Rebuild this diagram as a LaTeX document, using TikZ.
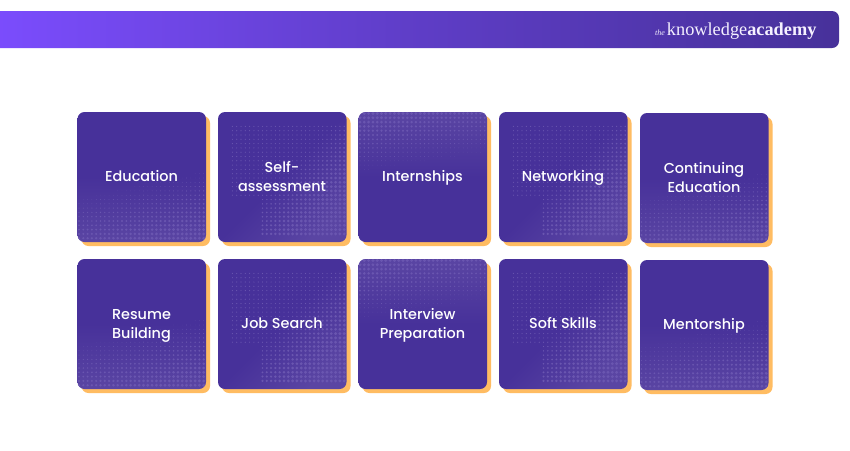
\documentclass[tikz,border=0pt]{standalone}
\usepackage{fontspec}
\setmainfont{Poppins Medium}
\newfontfamily\logofont{Liberation Serif}
\definecolor{cardviolet}{HTML}{47319A}
\definecolor{hazeviolet}{HTML}{5A45A3}
\definecolor{dotviolet}{HTML}{6A56B0}
\definecolor{shadoworange}{HTML}{FFBC62}
\definecolor{bannerleft}{HTML}{7C4DFF}
\definecolor{bannerright}{HTML}{47319A}
\tikzset{
  cardshadow/.style={fill=shadoworange,draw=none,rounded corners=7pt},
  cardtext/.style={text=white,font=\fontsize{14.4pt}{19.5pt}\selectfont,align=center,inner sep=0pt},
  logotext/.style={text=white!92!bannerleft,inner sep=0pt,anchor=base west},
  hazeb/.style={bottom color=hazeviolet,top color=cardviolet,middle color=cardviolet},
  hazet/.style={top color=hazeviolet,bottom color=cardviolet,middle color=cardviolet},
  hazer/.style={left color=cardviolet,right color=hazeviolet,middle color=cardviolet,shading angle=45},
}
% #1 left, #2 top, #3 name, #4 text, #5 halftone mode (b, r, t)
\newcommand{\cardat}[5]{%
  \path[cardshadow] (#1+4,#2+4) rectangle (#1+132.5,#2+134);
  \path[rounded corners=7pt,haze#5] (#1,#2) rectangle (#1+128.5,#2+130);
  \begin{scope}
    \clip[rounded corners=7pt] (#1,#2) rectangle (#1+128.5,#2+130);
    \foreach \ix in {0,...,29}{
      \foreach \iy in {0,...,29}{
        \pgfmathsetmacro{\dotr}{mode#5(\ix,\iy)}
        \ifdim\dotr pt>0.2pt
          \fill[dotviolet] (#1+1.5+4.3*\ix,#2+1.5+4.3*\iy) circle[radius=\dotr];
        \fi
      }
    }
  \end{scope}
  \node[cardtext] (#3) at (#1+64,#2+66) {#4};
}
\pgfmathdeclarefunction{modeb}{2}{%
  \pgfmathparse{max(0,min(1.6,(#2+0.22*#1-18)*0.11))}%
}
\pgfmathdeclarefunction{moder}{2}{%
  \pgfmathparse{(#1>2)*(#2>2)*(#2<29)*max(0.6,min(1.6,0.4+(#1+#2-26)*0.065))*((#1>9)+(#2<20)>0)}%
}
\pgfmathdeclarefunction{modet}{2}{%
  \pgfmathparse{max(0,min(1.6,(15-#2-0.15*#1)*0.12))}%
}
\begin{document}
\begin{tikzpicture}[x=1pt,y=-1pt]
\useasboundingbox (0,0) rectangle (850,450);
\fill[white] (0,0) rectangle (850,450);
\path[left color=bannerleft,right color=bannerright,middle color=bannerright!55!bannerleft,rounded corners=7pt,draw=none]
  (-20,11) rectangle (839,48);
\node[logotext] (logo) at (655,35.5) {\logofont\fontsize{8pt}{8pt}\selectfont\itshape the\kern2pt\fontsize{18.3pt}{18pt}\selectfont\upshape knowledge\bfseries academy};
\cardat{77.5}{112}{c1}{\strut Education}{b}
\cardat{218}{112}{c2}{\strut Self-\\\strut assessment}{r}
\cardat{358.5}{112}{c3}{\strut Internships}{t}
\cardat{499}{112}{c4}{\strut Networking}{r}
\cardat{640}{113}{c5}{\strut Continuing\\\strut Education}{b}
\cardat{77.5}{259}{c6}{\strut Resume\\\strut Building}{b}
\cardat{218}{259}{c7}{\strut Job Search}{r}
\cardat{358.5}{259}{c8}{\strut Interview\\\strut Preparation}{t}
\cardat{499}{259}{c9}{\strut Soft Skills}{r}
\cardat{640}{260}{c10}{\strut Mentorship}{b}
\end{tikzpicture}
\end{document}
